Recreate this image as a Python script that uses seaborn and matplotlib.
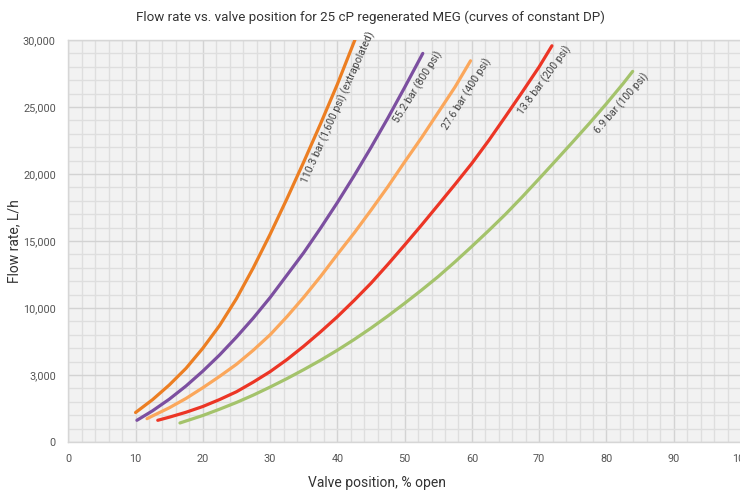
import pandas as pd
import matplotlib
matplotlib.use("Agg")
import matplotlib.pyplot as plt
import seaborn as sns
from matplotlib.ticker import MultipleLocator

# === Data (valve position %, flow rate L/h) ===
x_110 = [10.0, 12.5, 15.0, 17.5, 20.0, 22.5, 25.0, 27.5, 30.0, 32.5, 35.0, 37.5, 40.0, 42.6, 45.0]
y_110 = [2200, 3150, 4250, 5500, 7000, 8700, 10700, 13000, 15500, 18150, 20900, 23750, 26700, 30000, 33170]

x_552 = [10.2, 12.5, 15.0, 17.5, 20.0, 22.5, 25.0, 27.5, 30.0, 32.5, 35.0, 37.5, 40.0, 42.5, 45.0,
         47.5, 50.0, 52.7]
y_552 = [1620, 2320, 3190, 4180, 5290, 6500, 7830, 9250, 10780, 12450, 14130, 15960, 17870, 19880, 21980,
         24170, 26460, 29000]

x_276 = [11.7, 12.5, 15.0, 17.5, 20.0, 22.5, 25.0, 27.5, 30.0, 32.5, 35.0, 37.5, 40.0, 42.5, 45.0,
         47.5, 50.0, 52.5, 55.0, 57.5, 59.8]
y_276 = [1740, 1940, 2550, 3250, 4050, 4900, 5800, 6850, 8000, 9350, 10800, 12350, 14000, 15600, 17300,
         19050, 20900, 22700, 24600, 26500, 28450]

x_138 = [13.3, 15.0, 17.5, 20.0, 22.5, 25.0, 27.5, 30.0, 32.5, 35.0, 37.5, 40.0, 42.5, 45.0, 47.5,
         50.0, 52.5, 55.0, 57.5, 60.0, 62.5, 65.0, 67.5, 70.0, 71.9]
y_138 = [1620, 1850, 2220, 2650, 3170, 3750, 4470, 5250, 6150, 7150, 8220, 9350, 10570, 11850, 13250,
         14700, 16180, 17700, 19230, 20800, 22500, 24300, 26130, 28000, 29570]

x_69 = [16.6, 20.0, 22.5, 25.0, 27.5, 30.0, 32.5, 35.0, 37.5, 40.0, 42.5, 45.0, 47.5, 50.0, 52.5,
        55.0, 57.5, 60.0, 62.5, 65.0, 67.5, 70.0, 72.5, 75.0, 77.5, 80.0, 82.5, 83.9]
y_69 = [1420, 1980, 2450, 2950, 3500, 4100, 4730, 5400, 6100, 6850, 7650, 8500, 9400, 10350, 11330,
        12350, 13450, 14600, 15780, 17000, 18300, 19650, 21020, 22400, 23800, 25250, 26760, 27660]

series_names = ["110.3 bar (1,600 psi) (extrapolated)", "55.2 bar (800 psi)",
                "27.6 bar (400 psi)", "13.8 bar (200 psi)", "6.9 bar (100 psi)"]
series_x = [x_110, x_552, x_276, x_138, x_69]
series_y = [y_110, y_552, y_276, y_138, y_69]

x_ticks = [0, 10, 20, 30, 40, 50, 60, 70, 80, 90, 100]
y_ticks = [0, 5000, 10000, 15000, 20000, 25000, 30000]
y_tick_labels = ["0", "3,000", "10,000", "15,000", "20,000", "25,000", "30,000"]

colors = ["#EC7E22", "#7C4FA0", "#FBA75B", "#EC3525", "#A4C36B"]

# label placement (x, y, rotation)
label_pos = [(40.2, 24950, 66), (52.0, 26500, 58), (59.2, 25950, 58),
             (70.8, 27000, 54), (82.3, 25250, 49)]

# --- long table for seaborn ---
rows = []
for name, xs, ys in zip(series_names, series_x, series_y):
    for xv, yv in zip(xs, ys):
        rows.append((name, xv, yv))
df = pd.DataFrame(rows, columns=["series", "valve", "flow"])

# --- style ---
sns.set_style("whitegrid")
plt.rcParams["font.family"] = ["Roboto", "DejaVu Sans"]

fig = plt.figure(figsize=(7.4, 4.91), dpi=100)
ax = fig.add_axes([0.0923, 0.0998, 0.909, 0.8187])
ax.set_facecolor("#f2f2f2")

sns.lineplot(data=df, x="valve", y="flow", hue="series", hue_order=series_names,
             palette=colors, sort=False, estimator=None, linewidth=2.3,
             legend=False, ax=ax, zorder=3)

ax.set_xlim(0, 100)
ax.set_ylim(0, 30000)
ax.set_xticks(x_ticks)
ax.set_yticks(y_ticks)
ax.set_yticklabels(y_tick_labels)
ax.xaxis.set_minor_locator(MultipleLocator(2))
ax.yaxis.set_minor_locator(MultipleLocator(1000))
ax.grid(which="minor", color="#dedede", linewidth=1.0)
ax.grid(which="major", color="#d3d3d3", linewidth=1.0)
ax.set_axisbelow(True)
ax.tick_params(which="major", length=3, color="#cccccc", labelsize=7.8,
               labelcolor="#555555", pad=6)
ax.tick_params(which="minor", length=0)
for s in ax.spines.values():
    s.set_color("#d6d6d6")
    s.set_linewidth(1.0)

# --- curve labels ---
for name, (lx, ly, rot) in zip(series_names, label_pos):
    ax.text(lx, ly, name, rotation=rot, rotation_mode="anchor",
            ha="center", va="center", fontsize=7.6, color="#444444", zorder=4)

ax.set_xlabel("Valve position, % open", fontsize=10, color="#333333")
ax.set_ylabel("Flow rate, L/h", fontsize=10, color="#333333")
ax.xaxis.set_label_coords(0.459, -0.085)
ax.yaxis.set_label_coords(-0.07, 0.5)

fig.text(0.5, 0.965, "Flow rate vs. valve position for 25 cP regenerated MEG (curves of constant DP)",
         ha="center", va="center", fontsize=9.6, color="#333333")

fig.savefig("out.png", dpi=100)
